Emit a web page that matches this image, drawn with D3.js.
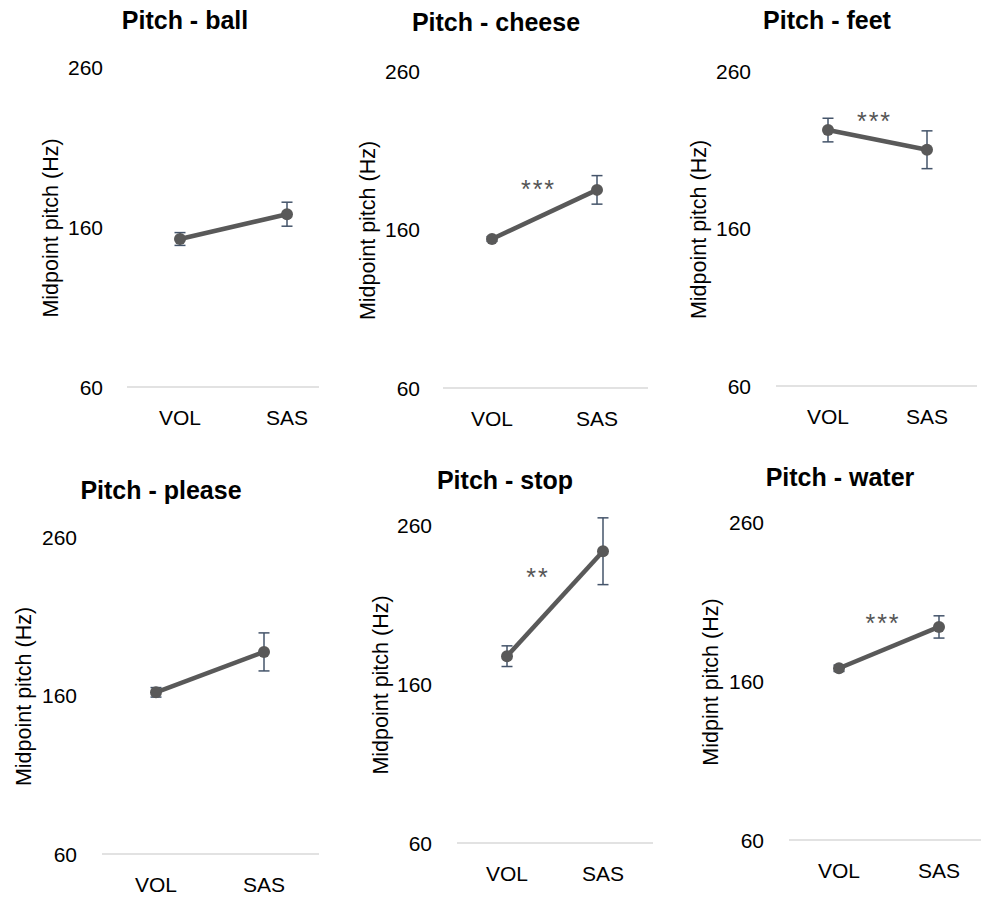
<!DOCTYPE html>
<html>
<head>
<meta charset="utf-8">
<script src="https://d3js.org/d3.v7.min.js"></script>
<style>
  body { margin: 0; background: #fff; }
  svg text { font-family: "Liberation Sans", Arial, sans-serif; fill: #000; }
  .title { font-size: 25px; font-weight: bold; text-anchor: middle; }
  .tick-lab { font-size: 21px; }
  .ylab { font-size: 21.5px; text-anchor: middle; }
  .sig { font-size: 25px; fill: #555; letter-spacing: 2px; text-anchor: middle; }
</style>
</head>
<body>
<script>
// data
var words = ["ball", "cheese", "feet", "please", "stop", "water"];
var conditions = ["VOL", "SAS"];
var volMean = [152.5, 154, 222.5, 162, 177.5, 168];
var sasMean = [168, 185, 210, 187.5, 243.5, 194];
var volErr = [4, 1.5, 7.5, 3, 6.5, 2];
var sasErr = [7.5, 9, 12, 12, 21, 7];
var sigMark = ["", "***", "***", "", "**", "***"];
var sigLevel = [null, 189, 232, null, 231, 200];
var yTicks = [60, 160, 260];
var yTitles = ["Midpoint pitch (Hz)", "Midpoint pitch (Hz)", "Midpoint pitch (Hz)",
               "Midpoint pitch (Hz)", "Midpoint pitch (Hz)", "Midpint pitch (Hz)"];

// layout of each panel (pixels)
var layout = [
  {ax: [127, 319], px: [180, 287], y: [387, 67],  tick: 103, lab: 50,  tx: 185, ty: 20,  sdx: -7},
  {ax: [443, 648], px: [492, 597], y: [388, 71],  tick: 420, lab: 367, tx: 496, ty: 22,  sdx: -7},
  {ax: [776, 977], px: [828, 927], y: [386, 71],  tick: 751, lab: 698, tx: 827, ty: 20,  sdx: -4},
  {ax: [102, 319], px: [156, 264], y: [854, 537], tick: 77,  lab: 23,  tx: 161, ty: 490, sdx: 0},
  {ax: [457, 653], px: [507, 603], y: [843, 525], tick: 432, lab: 380, tx: 505, ty: 480, sdx: -18},
  {ax: [789, 981], px: [839, 939], y: [840, 522], tick: 764, lab: 710, tx: 840, ty: 477, sdx: -7}
];

var svg = d3.select("body").append("svg")
  .attr("width", 981)
  .attr("height", 899);

var lineColor = "#595959",
    errColor = "#44546a";

words.forEach(function(w, i) {
  var L = layout[i];
  var g = svg.append("g");

  var x = d3.scalePoint().domain(conditions).range(L.px);
  var y = d3.scaleLinear().domain([60, 260]).range(L.y);

  var pts = [
    {c: "VOL", m: volMean[i], e: volErr[i]},
    {c: "SAS", m: sasMean[i], e: sasErr[i]}
  ];

  // title
  g.append("text").attr("class", "title")
    .attr("x", L.tx).attr("y", L.ty)
    .attr("dy", "0.36em")
    .text("Pitch - " + w);

  // baseline
  g.append("line")
    .attr("x1", L.ax[0]).attr("x2", L.ax[1])
    .attr("y1", y(60)).attr("y2", y(60))
    .attr("stroke", "#d9d9d9").attr("stroke-width", 1.5);

  // y tick labels
  g.selectAll(".ytk").data(yTicks).enter().append("text")
    .attr("class", "tick-lab")
    .attr("x", L.tick)
    .attr("y", function(d) { return y(d); })
    .attr("dy", "0.36em")
    .attr("text-anchor", "end")
    .text(function(d) { return d; });

  // x tick labels
  g.selectAll(".xtk").data(conditions).enter().append("text")
    .attr("class", "tick-lab")
    .attr("x", function(d) { return x(d); })
    .attr("y", y(60) + 30)
    .attr("dy", "0.36em")
    .attr("text-anchor", "middle")
    .text(function(d) { return d; });

  // y axis title
  g.append("text").attr("class", "ylab")
    .attr("transform", "translate(" + L.lab + "," + (y(160) + 1) + ") rotate(-90)")
    .attr("dy", "0.36em")
    .text(yTitles[i]);

  // error bars
  var eb = g.selectAll(".eb").data(pts).enter().append("g")
    .attr("stroke", errColor).attr("stroke-width", 1.5);
  eb.append("line")
    .attr("x1", function(d) { return x(d.c); })
    .attr("x2", function(d) { return x(d.c); })
    .attr("y1", function(d) { return y(d.m - d.e); })
    .attr("y2", function(d) { return y(d.m + d.e); });
  eb.append("line")
    .attr("x1", function(d) { return x(d.c) - 5.5; })
    .attr("x2", function(d) { return x(d.c) + 5.5; })
    .attr("y1", function(d) { return y(d.m - d.e); })
    .attr("y2", function(d) { return y(d.m - d.e); });
  eb.append("line")
    .attr("x1", function(d) { return x(d.c) - 5.5; })
    .attr("x2", function(d) { return x(d.c) + 5.5; })
    .attr("y1", function(d) { return y(d.m + d.e); })
    .attr("y2", function(d) { return y(d.m + d.e); });

  // line + markers
  g.append("path")
    .datum(pts)
    .attr("fill", "none")
    .attr("stroke", lineColor)
    .attr("stroke-width", 4.5)
    .attr("d", d3.line()
      .x(function(d) { return x(d.c); })
      .y(function(d) { return y(d.m); }));

  g.selectAll(".dot").data(pts).enter().append("circle")
    .attr("cx", function(d) { return x(d.c); })
    .attr("cy", function(d) { return y(d.m); })
    .attr("r", 6)
    .attr("fill", lineColor);

  // significance
  if (sigMark[i]) {
    g.append("text").attr("class", "sig")
      .attr("x", (x("VOL") + x("SAS")) / 2 + L.sdx + 1)
      .attr("y", y(sigLevel[i]) + 14.5)
      .text(sigMark[i]);
  }
});
</script>
</body>
</html>
